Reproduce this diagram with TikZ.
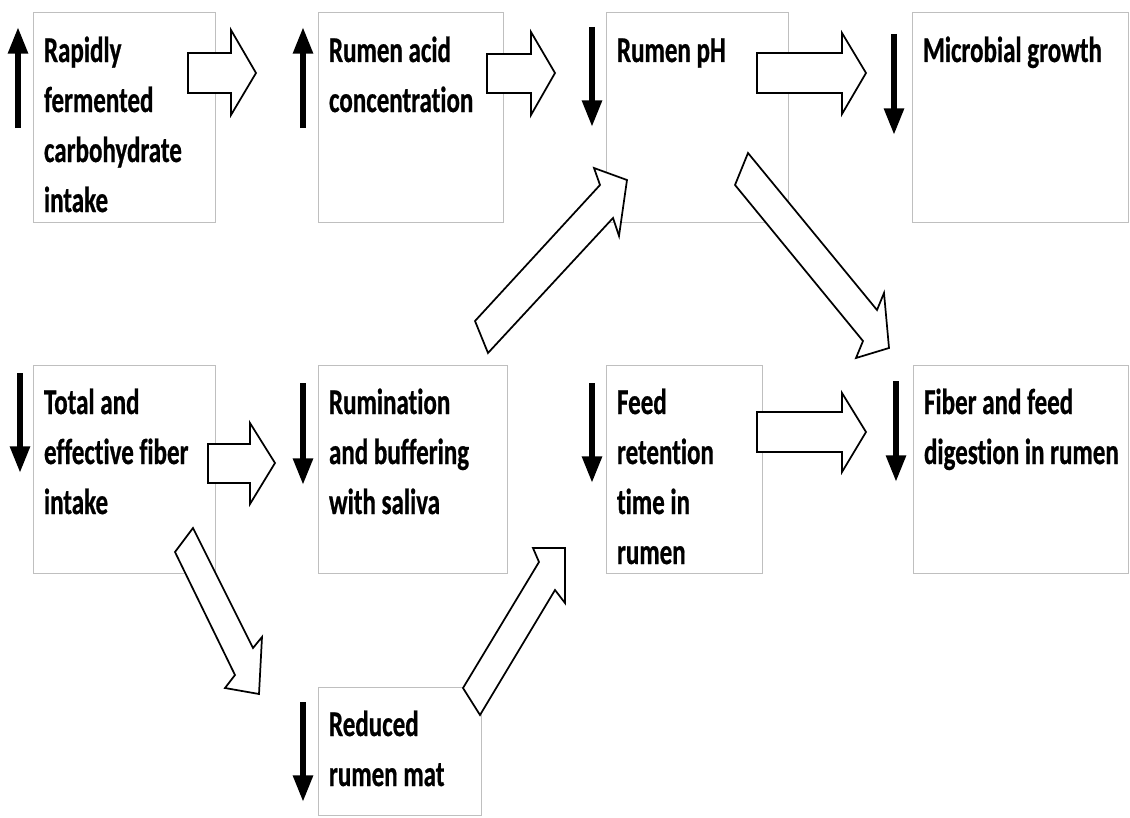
\documentclass[tikz,border=0pt]{standalone}
\usepackage{fontspec}
\setmainfont{Carlito}[FakeStretch=0.69, Ligatures=CommonOff, BoldFeatures={FakeBold=0.6}]
\usetikzlibrary{arrows.meta}
\tikzset{
  boxst/.style={draw=black!25, line width=0.75pt, fill=white, inner sep=0pt, outer sep=0pt},
  txt/.style={inner sep=0pt, outer sep=0pt, align=left, font=\fontsize{27.2}{37.5}\selectfont\bfseries},
  blockarrow/.style={draw=black, fill=white, line width=1.3pt, line join=miter},
  indic/.style={line width=4.4pt, -{Triangle[length=20pt,width=14.2pt]}}
}
\newcommand{\mybox}[6]{%
  \node[boxst, anchor=north west, minimum width={(#4-#2)*0.75pt}, minimum height={(#5-#3)*0.75pt}] (#1) at (#2,#3) {};
  \node[txt, anchor=north west] (#1t) at (#2+11,#3+14) {\strut #6};
}
\begin{document}
\begin{tikzpicture}[x=0.75pt,y=-0.75pt]
\path[use as bounding box, fill=white] (0,0) rectangle (1130,817);
% boxes
\mybox{b1}{33}{13}{215}{222}{Rapidly\\fermented\\carbohydrate\\intake}
\mybox{b2}{318}{13}{503}{222}{Rumen acid\\concentration}
\mybox{b3}{606}{13}{788}{222}{Rumen pH}
\mybox{b4}{912}{13}{1128}{222}{Microbial growth}
\mybox{b5}{33}{365}{215}{573}{Total and\\effective fiber\\intake}
\mybox{b6}{318}{365}{507}{573}{Rumination\\and buffering\\with saliva}
\mybox{b7}{606}{365}{762}{573}{Feed\\retention\\time in\\rumen}
\mybox{b8}{913}{365}{1128}{573}{Fiber and feed\\digestion in rumen}
\mybox{b9}{318}{687}{481}{815}{Reduced\\rumen mat}
% indicator arrows
\draw[indic] (18,128) -- (18,27);
\draw[indic] (303,128) -- (303,27);
\draw[indic] (592,27) -- (592,127);
\draw[indic] (894,34) -- (894,135);
\draw[indic] (20,373) -- (20,473);
\draw[indic] (303,383) -- (303,485);
\draw[indic] (592,383) -- (592,483);
\draw[indic] (896,381) -- (896,482);
\draw[indic] (303,702) -- (303,802);
% horizontal block arrows
\draw[blockarrow] (188,53) -- (231,53) -- (231,30) -- (256,73) -- (231,115) -- (231,93) -- (188,93) -- cycle;
\draw[blockarrow] (487,54) -- (531,54) -- (531,32) -- (555,73) -- (531,115) -- (531,93) -- (487,93) -- cycle;
\draw[blockarrow] (757,53) -- (842,53) -- (842,33) -- (866,73) -- (842,114) -- (842,93) -- (757,93) -- cycle;
\draw[blockarrow] (208,444) -- (250,444) -- (250,423) -- (275,463) -- (250,504) -- (250,483) -- (208,483) -- cycle;
\draw[blockarrow] (757,412) -- (842,412) -- (842,393) -- (866,432) -- (842,472) -- (842,452) -- (757,452) -- cycle;
% diagonal block arrows
\draw[blockarrow] (475,321) -- (600,185) -- (594,168) -- (627,180) -- (619,236) -- (613,218) -- (488,353) -- cycle;
\draw[blockarrow] (748,153) -- (877,310) -- (884,293) -- (889,348) -- (856,358) -- (863,341) -- (735,185) -- cycle;
\draw[blockarrow] (193,528) -- (253,648) -- (262,637) -- (259,694) -- (225,688) -- (235,675) -- (175,552) -- cycle;
\draw[blockarrow] (463,688) -- (539,562) -- (533,548) -- (565,548) -- (565,603) -- (555,590) -- (480,715) -- cycle;
\end{tikzpicture}
\end{document}
